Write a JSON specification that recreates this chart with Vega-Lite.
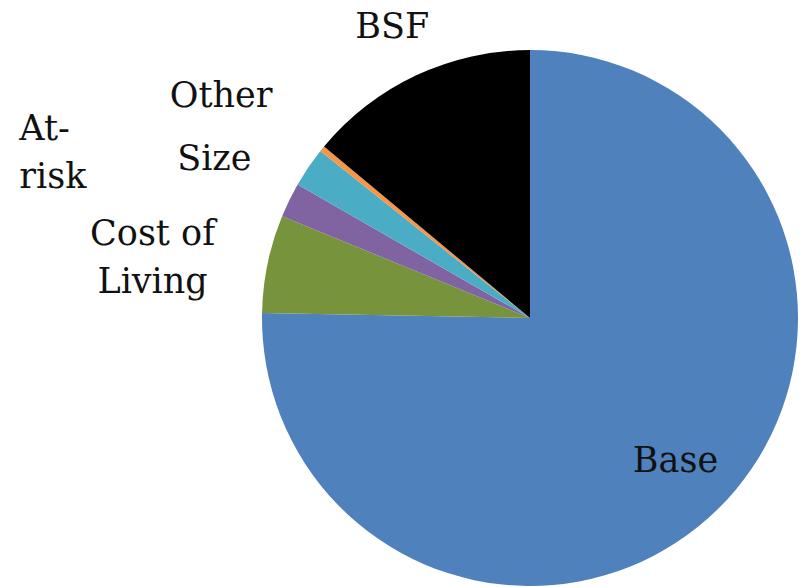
{
  "$schema": "https://vega.github.io/schema/vega-lite/v6.json",
  "width": 536,
  "height": 536,
  "autosize": {"type": "none"},
  "padding": {"left": 262, "top": 50, "right": 3, "bottom": 1},
  "background": "white",
  "config": {"view": {"stroke": null}, "text": {"font": "DejaVu Serif", "fontSize": 35, "baseline": "alphabetic", "color": "#111111"}},
  "data": {
    "values": [
      {"cat": "Base", "ord": 1, "value": 75.3},
      {"cat": "Cost of Living", "ord": 2, "value": 5.9},
      {"cat": "At-risk", "ord": 3, "value": 2.1},
      {"cat": "Size", "ord": 4, "value": 2.4},
      {"cat": "Other", "ord": 5, "value": 0.35},
      {"cat": "BSF", "ord": 6, "value": 13.95}
    ]
  },
  "encoding": {
    "theta": {"field": "value", "type": "quantitative", "stack": true},
    "order": {"field": "ord", "type": "quantitative"},
    "detail": {"field": "cat", "type": "nominal"}
  },
  "layer": [
    {
      "mark": {"type": "arc", "outerRadius": 268},
      "encoding": {
        "color": {
          "field": "cat",
          "type": "nominal",
          "scale": {
            "domain": ["Base", "Cost of Living", "At-risk", "Size", "Other", "BSF"],
            "range": ["#4F81BD", "#77933C", "#8064A2", "#4BACC6", "#F79646", "#000000"]
          },
          "legend": null
        }
      }
    },
    {
      "mark": {"type": "text", "radius": 212, "dx": -3, "dy": 3, "align": "center"},
      "encoding": {"text": {"condition": {"test": "datum.cat === 'Base'", "value": "Base"}, "value": ""}}
    },
    {
      "mark": {"type": "text", "radius": 313, "dx": -5, "dy": 3, "align": "center"},
      "encoding": {"text": {"condition": {"test": "datum.cat === 'BSF'", "value": "BSF"}, "value": ""}}
    },
    {
      "mark": {"type": "text", "radius": 268, "dx": -101, "dy": -42, "align": "center"},
      "encoding": {"text": {"condition": {"test": "datum.cat === 'Other'", "value": "Other"}, "value": ""}}
    },
    {
      "mark": {"type": "text", "radius": 268, "dx": -94, "dy": 3, "align": "center"},
      "encoding": {"text": {"condition": {"test": "datum.cat === 'Size'", "value": "Size"}, "value": ""}}
    },
    {
      "mark": {"type": "text", "radius": 268, "dx": -270, "dy": -60, "lineHeight": 48, "lineBreak": "\n", "align": "left"},
      "encoding": {"text": {"condition": {"test": "datum.cat === 'At-risk'", "value": "At-\nrisk"}, "value": ""}}
    },
    {
      "mark": {"type": "text", "radius": 268, "dx": -115, "dy": -19, "lineHeight": 48, "lineBreak": "\n", "align": "center"},
      "encoding": {"text": {"condition": {"test": "datum.cat === 'Cost of Living'", "value": "Cost of\nLiving"}, "value": ""}}
    }
  ]
}
